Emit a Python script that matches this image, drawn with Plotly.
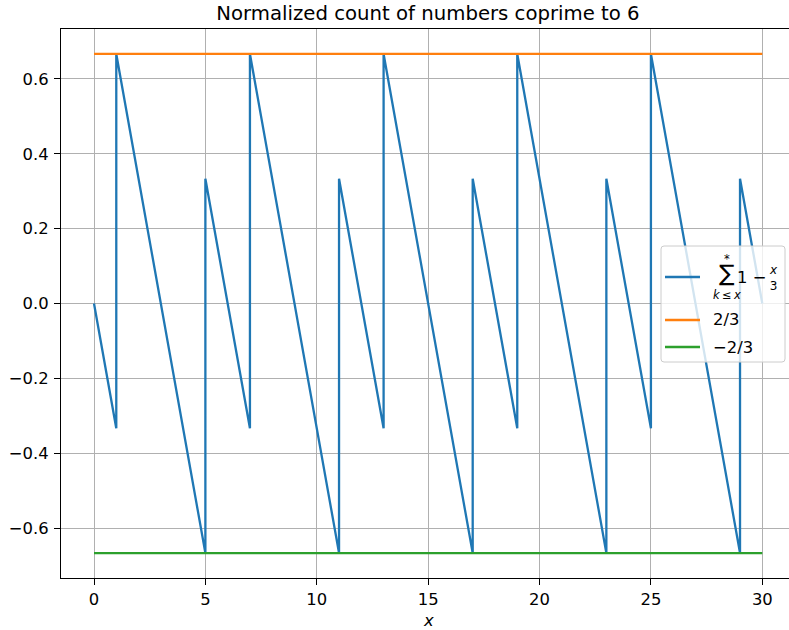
import plotly.graph_objects as go

# ---- data ----
x_values = [0, 1, 1, 5, 5, 7, 7, 11, 11, 13, 13, 17, 17, 19, 19, 23, 23, 25, 25, 29, 29, 30]
y_values = [0.0, -0.3333, 0.6667, -0.6667, 0.3333, -0.3333, 0.6667, -0.6667, 0.3333, -0.3333,
            0.6667, -0.6667, 0.3333, -0.3333, 0.6667, -0.6667, 0.3333, -0.3333, 0.6667, -0.6667,
            0.3333, 0.0]
upper_x = [0, 30]
upper_y = [0.6667, 0.6667]
lower_x = [0, 30]
lower_y = [-0.6667, -0.6667]
x_ticks = [0, 5, 10, 15, 20, 25, 30]
x_tick_labels = ["0", "5", "10", "15", "20", "25", "30"]
y_ticks = [-0.6, -0.4, -0.2, 0.0, 0.2, 0.4, 0.6]
y_tick_labels = ["−0.6", "−0.4", "−0.2", "0.0", "0.2", "0.4", "0.6"]
title_text = "Normalized count of numbers coprime to 6"
legend_labels = ["2/3", "−2/3"]

BLUE, ORANGE, GREEN = "#1f77b4", "#ff7f0e", "#2ca02c"
FONT = "DejaVu Sans"
FS = 16.4
W, H = 789, 630
PL, PR, PT, PB = 61, 789, 29, 578
LW = 2.3


def px(x):
    return (x - PL) / (PR - PL)


def py(y):
    return (PB - y) / (PB - PT)


fig = go.Figure()
fig.add_trace(go.Scatter(x=x_values, y=y_values, mode="lines",
                         line=dict(color=BLUE, width=LW), showlegend=False))
fig.add_trace(go.Scatter(x=upper_x, y=upper_y, mode="lines",
                         line=dict(color=ORANGE, width=LW), showlegend=False))
fig.add_trace(go.Scatter(x=lower_x, y=lower_y, mode="lines",
                         line=dict(color=GREEN, width=LW), showlegend=False))

# x-range so that 0 -> 94px and 30 -> 762.3px
ppu = (762.3 - 94) / 30.0
xr = [(PL - 94) / ppu, (PR - 94) / ppu]

axis_common = dict(
    showgrid=True, gridcolor="#b0b0b0", gridwidth=1.2, zeroline=False,
    showline=True, linecolor="black", linewidth=1.1,
    ticks="outside", ticklen=6, tickwidth=1.2, tickcolor="black",
    tickfont=dict(family=FONT, size=FS, color="black"),
)

fig.update_layout(
    width=W, height=H,
    margin=dict(l=PL, r=W - PR, t=PT, b=H - PB, pad=0),
    plot_bgcolor="white", paper_bgcolor="white",
    xaxis=dict(range=xr, tickvals=x_ticks, ticktext=x_tick_labels, mirror=True, **axis_common),
    yaxis=dict(range=[-0.7333, 0.7333], tickvals=y_ticks, ticktext=y_tick_labels,
               ticklabelstandoff=2, **axis_common),
    title=dict(text=title_text, x=428 / W, xref="container", xanchor="center",
               y=1 - 13.5 / H, yref="container", yanchor="middle",
               font=dict(family=FONT, size=19.7, color="black")),
)

# ---- hand-built legend ----
bx0, bx1, by0, by1, r = 661, 785, 246, 362, 3
path = (f"M {px(bx0 + r)},{py(by0)} L {px(bx1 - r)},{py(by0)} "
        f"Q {px(bx1)},{py(by0)} {px(bx1)},{py(by0 + r)} "
        f"L {px(bx1)},{py(by1 - r)} Q {px(bx1)},{py(by1)} {px(bx1 - r)},{py(by1)} "
        f"L {px(bx0 + r)},{py(by1)} Q {px(bx0)},{py(by1)} {px(bx0)},{py(by1 - r)} "
        f"L {px(bx0)},{py(by0 + r)} Q {px(bx0)},{py(by0)} {px(bx0 + r)},{py(by0)} Z")
shapes = [dict(type="path", path=path, xref="paper", yref="paper", layer="above",
               fillcolor="rgba(255,255,255,0.8)", line=dict(color="#cccccc", width=1))]
for yy, col in [(277, BLUE), (320, ORANGE), (347, GREEN)]:
    shapes.append(dict(type="line", xref="paper", yref="paper", layer="above",
                       x0=px(665), x1=px(700), y0=py(yy), y1=py(yy),
                       line=dict(color=col, width=LW)))
fig.update_layout(shapes=shapes)


def ann(text, x, y, size, xanchor="center", yanchor="middle"):
    fig.add_annotation(text=text, x=px(x), y=py(y),
                       xref="paper", yref="paper", showarrow=False,
                       xanchor=xanchor, yanchor=yanchor, borderpad=0,
                       font=dict(family=FONT, size=size, color="black"))


# formula: sum* over k<=x of 1 - x/3
ann("<span style='font-size:11.5px'>*</span><br>"
    "<span style='font-size:23px'>∑</span><br>"
    "<span style='font-size:11.5px'><i>k</i>\u2009≤\u2009<i>x</i></span>", 726.5, 277, 13.8)
ann("1 −", 751.5, 277, FS)
ann("<i>x</i><br>3", 773, 277.5, 12)
ann(legend_labels[0], 712, 320, FS, xanchor="left")
ann(legend_labels[1], 712, 347, FS, xanchor="left")

# x-axis label
ann("<i>x</i>", 428, 620, FS)

fig.write_html("out.html", post_script="document.body.style.margin='0';",
               config={"displayModeBar": False})
